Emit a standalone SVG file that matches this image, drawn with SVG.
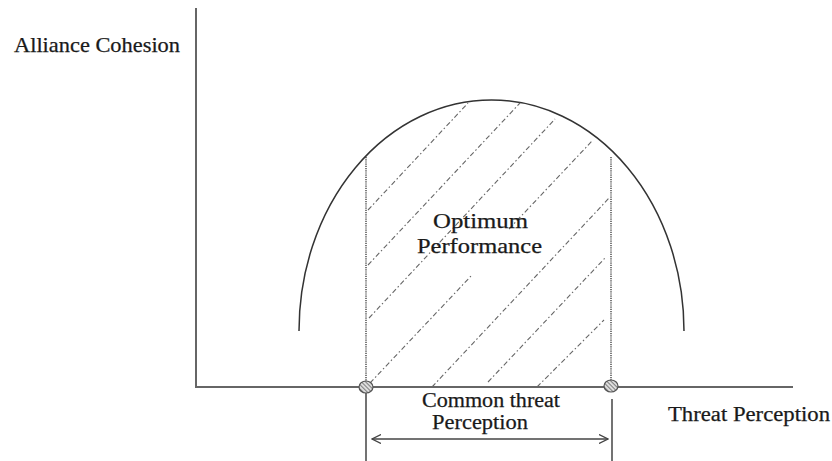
<svg xmlns="http://www.w3.org/2000/svg" width="832" height="461" viewBox="0 0 832 461">
  <style>
    .lbl { font-family: "Liberation Serif", "Times New Roman", serif; fill: #1a1a1a; stroke: #1a1a1a; stroke-width: 0.25; }
    .axis { stroke: #666; stroke-width: 2; fill: none; }
    .curve { stroke: #333; stroke-width: 1.5; fill: none; }
    .dotv { stroke: #333; stroke-width: 1.3; stroke-dasharray: 1.2 1; fill: none; }
    .hatch { stroke: #666; stroke-width: 1.1; stroke-dasharray: 5 2.5 1.5 2.5; fill: none; }
    .solid { stroke: #444; stroke-width: 1.5; fill: none; }
    .knot { fill: url(#hp); stroke: #555; stroke-width: 1.2; }
  </style>
  <defs>
    <pattern id="hp" width="3" height="3" patternUnits="userSpaceOnUse" patternTransform="rotate(-45)">
      <rect width="3" height="3" fill="#ddd"/>
      <line x1="0" y1="0" x2="0" y2="3" stroke="#555" stroke-width="1.4"/>
    </pattern>
    <marker id="ah" viewBox="0 0 10 10" refX="9" refY="5" markerWidth="10" markerHeight="10" markerUnits="userSpaceOnUse" orient="auto-start-reverse">
      <path d="M0,0.5 L9,5 L0,9.5" fill="none" stroke="#444" stroke-width="1.3"/>
    </marker>
  </defs>

  <g id="axes">
    <line class="axis" x1="196" y1="8" x2="196" y2="388"/>
    <line class="axis" x1="195" y1="387" x2="793" y2="387"/>
  </g>

  <g id="curve">
    <path class="curve" d="M 299 331 A 192.5 231 0 0 1 684 331"/>
  </g>

  <g id="optimum-region">
    <line class="dotv" x1="366" y1="157" x2="366" y2="387"/>
    <line class="dotv" x1="611" y1="157" x2="611" y2="387"/>
    <g id="hatching">
      <line class="hatch" x1="368" y1="210" x2="468" y2="103"/>
      <line class="hatch" x1="368" y1="265" x2="520" y2="103"/>
      <line class="hatch" x1="369" y1="318" x2="555" y2="119"/>
      <line class="hatch" x1="370" y1="383" x2="472" y2="275"/>
      <line class="hatch" x1="509" y1="229" x2="593" y2="140"/>
      <line class="hatch" x1="432" y1="387" x2="610" y2="197"/>
      <line class="hatch" x1="488" y1="382" x2="605" y2="258"/>
      <line class="hatch" x1="537" y1="387" x2="604" y2="320"/>
    </g>
  </g>

  <g id="connectors">
    <line class="solid" x1="366" y1="393" x2="366" y2="461"/>
    <line class="solid" x1="612" y1="399" x2="612" y2="461"/>
    <line class="solid" x1="372" y1="439" x2="608" y2="439" marker-start="url(#ah)" marker-end="url(#ah)"/>
  </g>

  <g id="node-left-point">
    <ellipse class="knot" cx="366" cy="387" rx="7" ry="6"/>
  </g>
  <g id="node-right-point">
    <ellipse class="knot" cx="611" cy="386" rx="7" ry="6"/>
  </g>

  <g id="label-y-axis">
    <text class="lbl" x="14" y="52" font-size="21" textLength="166" lengthAdjust="spacingAndGlyphs">Alliance Cohesion</text>
  </g>
  <g id="label-optimum">
    <text class="lbl" x="433" y="228" font-size="21" textLength="95" lengthAdjust="spacingAndGlyphs">Optimum</text>
    <text class="lbl" x="417" y="253" font-size="21" textLength="125" lengthAdjust="spacingAndGlyphs">Performance</text>
  </g>
  <g id="label-common">
    <text class="lbl" x="422" y="407" font-size="20" textLength="138" lengthAdjust="spacingAndGlyphs">Common threat</text>
    <text class="lbl" x="432" y="429" font-size="20" textLength="96" lengthAdjust="spacingAndGlyphs">Perception</text>
  </g>
  <g id="label-x-axis">
    <text class="lbl" x="668" y="421" font-size="20" textLength="162" lengthAdjust="spacingAndGlyphs">Threat Perception</text>
  </g>
</svg>
